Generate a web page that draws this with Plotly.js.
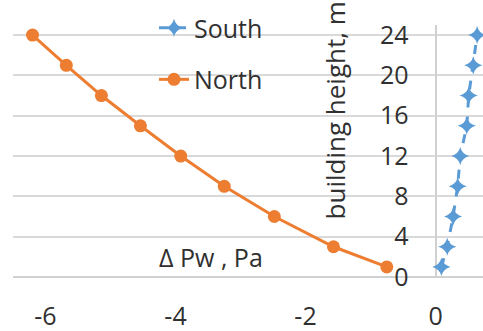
<!DOCTYPE html>
<html><head><meta charset="utf-8">
<script src="https://cdn.plot.ly/plotly-3.0.1.min.js"></script>
<style>html,body{margin:0;padding:0;background:#fff}#c{width:483px;height:331px}</style>
</head><body><div id="c"></div>
<script>
const heights = [1, 3, 6, 9, 12, 15, 18, 21, 24];
const southPw = [0.09, 0.18, 0.27, 0.34, 0.38, 0.48, 0.51, 0.58, 0.64];
const northPw = [-0.75, -1.57, -2.48, -3.25, -3.92, -4.54, -5.14, -5.68, -6.2];
const xTicks = [-6, -4, -2, 0];
const xTickText = ["-6", "-4", "-2", "0"];
const yTicks = [0, 4, 8, 12, 16, 20, 24];

const FONT = "Open Sans, DejaVu Sans, sans-serif";
const TXT = "#303030";

const traces = [
  {x: southPw, y: heights, name: "South", legendgroup: "s", mode: "lines+markers", type: "scatter",
   line: {color: "#5B9BD5", width: 3, dash: "dash"},
   marker: {symbol: "star-diamond", size: 13, color: "#5B9BD5"}},
  {x: northPw, y: heights, name: "North", legendgroup: "n", mode: "lines+markers", type: "scatter",
   line: {color: "#ED7D31", width: 3},
   marker: {symbol: "circle", size: 13, color: "#ED7D31"}}
];

const xr = [-6.5, 0.73];
const layout = {
  width: 483, height: 331,
  margin: {l: 13, r: 0, t: 25, b: 54, autoexpand: false},
  paper_bgcolor: "#fff", plot_bgcolor: "#fff",
  font: {family: FONT, size: 24, color: TXT},
  showlegend: true,
  legend: {x: 0.30, xanchor: "left", y: 1.079, yanchor: "top", bgcolor: "rgba(0,0,0,0)",
           font: {family: FONT, size: 25, color: TXT}, tracegroupgap: 16},
  xaxis: {range: xr, tickvals: xTicks, ticktext: xTickText, showgrid: false, zeroline: true,
          zerolinecolor: "#d0d0d0", zerolinewidth: 2, showline: false, ticks: "", ticklabelstandoff: 22,
          tickfont: {family: FONT, size: 25, color: TXT}},
  yaxis: {range: [0, 25], tickvals: yTicks, showgrid: true, gridcolor: "#d9d9d9", gridwidth: 2,
          zeroline: true, zerolinecolor: "#d0d0d0", zerolinewidth: 2,
          anchor: "free", position: (0 - xr[0]) / (xr[1] - xr[0]), side: "left",
          ticks: "", ticklabelstandoff: 27, tickfont: {family: FONT, size: 25, color: TXT}},
  annotations: [
    {text: "Δ Pw , Pa", xref: "x", yref: "y", x: -3.45, y: 2.0, showarrow: false,
     font: {family: FONT, size: 25, color: TXT}},
    {text: "building height, m", xref: "x", yref: "paper", x: -1.55, y: 0.66, textangle: -90,
     showarrow: false, font: {family: FONT, size: 26, color: TXT}}
  ]
};
Plotly.newPlot("c", traces, layout, {displayModeBar: false, staticPlot: true});
</script></body></html>
